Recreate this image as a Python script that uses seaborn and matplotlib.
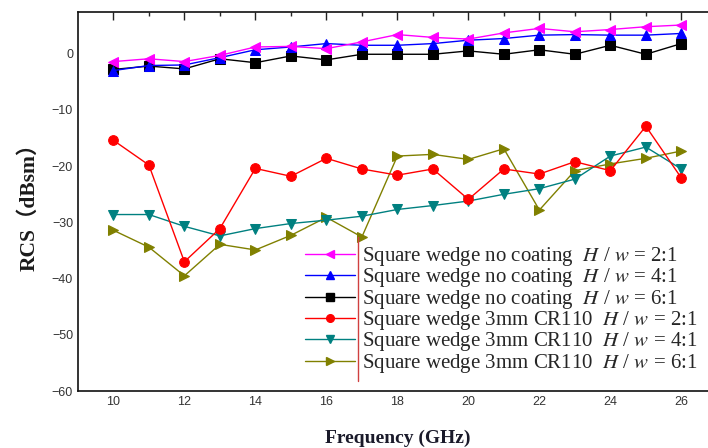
import numpy as np
import pandas as pd
import matplotlib
matplotlib.use("Agg")
import matplotlib.pyplot as plt
from matplotlib.lines import Line2D
import seaborn as sns

# Frequency points (GHz)
freq = [10, 11, 12, 13, 14, 15, 16, 17, 18, 19, 20, 21, 22, 23, 24, 25, 26]

# RCS (dBsm) for each configuration
nocoat_2 = [-1.4, -0.9, -1.4, -0.3, 1.2, 1.3, 0.9, 2.1, 3.4, 2.9, 2.6, 3.7, 4.5, 3.9, 4.3, 4.8, 5.1]
nocoat_4 = [-3.0, -2.1, -2.0, -0.7, 0.7, 1.2, 1.8, 1.5, 1.5, 1.8, 2.4, 2.7, 3.3, 3.4, 3.3, 3.3, 3.6]
nocoat_6 = [-2.8, -2.2, -2.7, -0.9, -1.6, -0.4, -1.1, -0.1, -0.1, -0.1, 0.5, -0.1, 0.7, -0.1, 1.5, -0.1, 1.8]
cr110_2 = [-15.4, -19.8, -37.0, -31.1, -20.4, -21.8, -18.6, -20.5, -21.6, -20.5, -25.9, -20.5, -21.4, -19.2, -20.8, -12.9, -22.1]
cr110_4 = [-28.6, -28.6, -30.7, -32.4, -31.1, -30.2, -29.6, -28.9, -27.7, -27.0, -26.2, -25.0, -24.0, -22.3, -18.2, -16.6, -20.5]
cr110_6 = [-31.4, -34.4, -39.5, -33.9, -34.9, -32.3, -29.1, -32.6, -18.2, -17.9, -18.8, -16.9, -27.8, -20.8, -19.6, -18.6, -17.3]

labels = [
    r"Square wedge no coating  $H$ / $w$ = 2:1",
    r"Square wedge no coating  $H$ / $w$ = 4:1",
    r"Square wedge no coating  $H$ / $w$ = 6:1",
    r"Square wedge 3mm CR110  $H$ / $w$ = 2:1",
    r"Square wedge 3mm CR110  $H$ / $w$ = 4:1",
    r"Square wedge 3mm CR110  $H$ / $w$ = 6:1",
]
series = [nocoat_2, nocoat_4, nocoat_6, cr110_2, cr110_4, cr110_6]
colors = ["#ff00ff", "#0000ff", "#000000", "#ff0000", "#008080", "#808000"]
markers = ["<", "^", "s", "o", "v", ">"]

sns.set_style("white")
plt.rcParams["mathtext.fontset"] = "stix"
plt.rcParams["font.family"] = ["Liberation Sans", "DejaVu Sans"]

fig = plt.figure(figsize=(7.08, 4.48), dpi=100)
ax = fig.add_axes([0.110, 0.127, 0.9025, 0.846])

# draw in reverse so the first series sits on top
order = [5, 4, 3, 2, 1, 0]
for i in order:
    df = pd.DataFrame({"f": freq, "rcs": series[i]})
    sns.lineplot(data=df, x="f", y="rcs", ax=ax, color=colors[i], marker=markers[i],
                 markersize=7, markeredgecolor=colors[i], linewidth=1.0,
                 legend=False, zorder=3 + (5 - i))

ax.set_xlim(9, 27)
ax.set_ylim(-60, 7.4)
ax.set_xticks(range(10, 27, 2))
ax.set_xticks(range(10, 27, 1), minor=True)
ax.set_yticks(range(-60, 1, 10))
ax.set_yticks(range(-60, 6, 5), minor=True)
ax.tick_params(axis="both", which="major", direction="in", length=6, width=1,
               top=True, right=True, labelsize=9, colors="#222222", labelcolor="#333333")
ax.tick_params(axis="both", which="minor", direction="in", length=3, width=1,
               top=True, right=True)
for s in ax.spines.values():
    s.set_color("#111111")
    s.set_linewidth(1.2)

ax.set_xlabel("Frequency (GHz)", fontsize=14, fontweight="bold",
              family=["Liberation Serif", "Noto Sans CJK SC"], color="#1a1a2a", labelpad=16)
ax.set_ylabel("RCS（dBsm）", fontsize=15.5, fontweight="bold",
              family=["Liberation Serif", "Noto Sans CJK SC"], color="#1a1a1a", labelpad=9)

handles = [Line2D([], [], color=c, marker=m, markersize=5.5, linewidth=1.0,
                  markeredgecolor=c) for c, m in zip(colors, markers)]
leg = ax.legend(handles, labels, loc="lower left", bbox_to_anchor=(0.355, 0.043),
                frameon=False, handlelength=2.4, handletextpad=0.33,
                labelspacing=-0.08, borderpad=0.0, borderaxespad=0.0,
                prop={"family": "Liberation Serif", "size": 15})

# thin red rule between legend keys and texts
ax.add_line(Line2D([0.438, 0.438], [0.026, 0.406], transform=ax.transAxes,
                   color="#d04040", linewidth=1.0, zorder=10))

fig.savefig("out.png", dpi=100)
